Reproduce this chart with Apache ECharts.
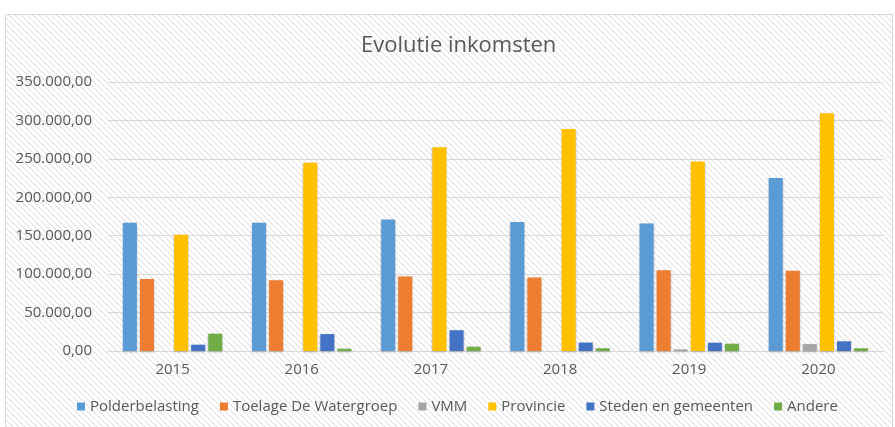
<!DOCTYPE html>
<html lang="nl">
<head>
    <meta charset="UTF-8">
    <title>Evolutie inkomsten</title>
    <script src="https://cdn.jsdelivr.net/npm/echarts@6/dist/echarts.min.js"></script>
    <style>
        html, body { margin: 0; padding: 0; background: #fff; }
    </style>
</head>
<body>
<div id="main" style="width: 895px; height: 427px"></div>
<script type="text/javascript">
    var years = ['2015', '2016', '2017', '2018', '2019', '2020'];
    var polderbelasting = [167000, 167000, 171000, 168000, 166000, 225000];
    var toelage = [93700, 92000, 97000, 95500, 105000, 104500];
    var vmm = [0, 0, 0, 0, 2000, 9000];
    var provincie = [151400, 245000, 265000, 289000, 246500, 309500];
    var steden = [8200, 22000, 27000, 11000, 10800, 12600];
    var andere = [22500, 3000, 5600, 3500, 9500, 3500];
    var yTicks = [0, 50000, 100000, 150000, 200000, 250000, 300000, 350000];

    var seriesInfo = [
        {name: 'Polderbelasting', data: polderbelasting, color: '#5B9BD5'},
        {name: 'Toelage De Watergroep', data: toelage, color: '#ED7D31'},
        {name: 'VMM', data: vmm, color: '#A5A5A5'},
        {name: 'Provincie', data: provincie, color: '#FFC000'},
        {name: 'Steden en gemeenten', data: steden, color: '#4472C4'},
        {name: 'Andere', data: andere, color: '#70AD47'}
    ];

    // hatch pattern for the chart area
    var hatch = document.createElement('canvas');
    hatch.width = 6;
    hatch.height = 6;
    var hctx = hatch.getContext('2d');
    hctx.fillStyle = '#ffffff';
    hctx.fillRect(0, 0, 6, 6);
    hctx.strokeStyle = '#e3e3e3';
    hctx.lineWidth = 1.2;
    hctx.beginPath();
    hctx.moveTo(-1, -1); hctx.lineTo(7, 7);
    hctx.moveTo(-1, 5); hctx.lineTo(1, 7);
    hctx.moveTo(5, -1); hctx.lineTo(7, 1);
    hctx.stroke();

    function nl(v) {
        var s = Math.round(v).toString().replace(/\B(?=(\d{3})+(?!\d))/g, '.');
        return s + ',00';
    }

    var font = '"Open Sans", sans-serif';
    var myChart = echarts.init(document.getElementById('main'));
    var option = {
        animation: false,
        backgroundColor: '#fff',
        textStyle: {fontFamily: font},
        graphic: [{
            type: 'rect',
            z: -10,
            silent: true,
            shape: {x: 5.5, y: 14.5, width: 887, height: 420},
            style: {fill: {image: hatch, repeat: 'repeat'}, stroke: '#d9d9d9', lineWidth: 1}
        }],
        title: {
            text: 'Evolutie inkomsten',
            left: 356,
            top: 30,
            textStyle: {color: '#595959', fontSize: 22, fontWeight: 'normal', fontFamily: font}
        },
        legend: {
            bottom: 8,
            left: 72,
            icon: 'rect',
            itemWidth: 8,
            itemHeight: 8,
            itemGap: 21,
            textStyle: {color: '#595959', fontSize: 15, fontFamily: font}
        },
        grid: {left: 108, right: 12, top: 82, bottom: 76},
        xAxis: {
            type: 'category',
            data: years,
            axisTick: {show: false},
            axisLine: {lineStyle: {color: '#d9d9d9', width: 1}},
            axisLabel: {color: '#595959', fontSize: 15, margin: 11, fontFamily: font}
        },
        yAxis: {
            type: 'value',
            min: yTicks[0],
            max: yTicks[yTicks.length - 1],
            interval: yTicks[1] - yTicks[0],
            axisLine: {show: false},
            axisTick: {show: false},
            splitLine: {lineStyle: {color: '#d9d9d9', width: 1}},
            axisLabel: {color: '#595959', fontSize: 15, margin: 16, fontFamily: font, formatter: nl}
        },
        series: seriesInfo.map(function (s) {
            return {
                name: s.name,
                type: 'bar',
                data: s.data,
                barWidth: 14,
                barGap: '22%',
                itemStyle: {color: s.color, shadowBlur: 2, shadowColor: 'rgba(0,0,0,0.25)', shadowOffsetY: 1}
            };
        })
    };
    myChart.setOption(option);
</script>
</body>
</html>
